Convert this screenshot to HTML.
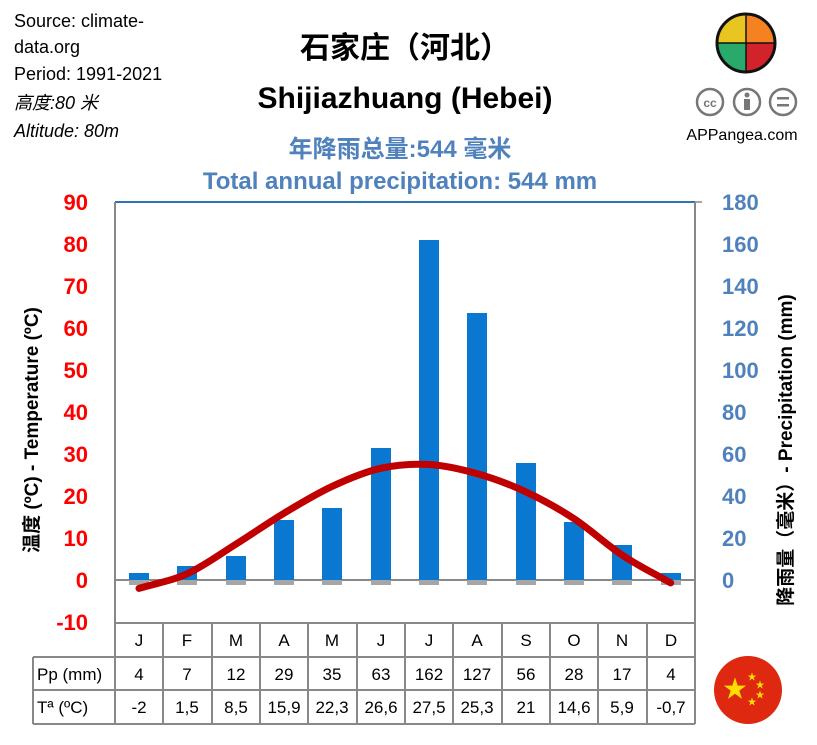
<!DOCTYPE html>
<html><head><meta charset="utf-8"><style>
body{margin:0;background:#fff;}
svg{display:block;font-family:"Liberation Sans","Noto Sans CJK SC",sans-serif;}
</style></head><body>
<svg width="817" height="745" viewBox="0 0 817 745" xmlns="http://www.w3.org/2000/svg">
<rect width="817" height="745" fill="#fff"/>
<g font-size="18" fill="#000">
<text x="14" y="27">Source: climate-</text>
<text x="14" y="53">data.org</text>
<text x="14" y="80">Period: 1991-2021</text>
<text x="14" y="109" font-style="italic">高度:80 米</text>
<text x="14" y="137" font-style="italic">Altitude: 80m</text>
</g>
<text x="405" y="58" font-size="30" font-weight="bold" text-anchor="middle">石家庄（河北）</text>
<text x="405" y="108" font-size="30" font-weight="bold" text-anchor="middle">Shijiazhuang (Hebei)</text>
<text x="400" y="157" font-size="24" font-weight="bold" fill="#4F81BD" text-anchor="middle">年降雨总量:544 毫米</text>
<text x="400" y="189" font-size="24" font-weight="bold" fill="#4F81BD" text-anchor="middle">Total annual precipitation: 544 mm</text>
<g transform="translate(746,43)">
<path d="M0,0 L0,-29 A29,29 0 0 0 -29,0 Z" fill="#E8C520"/>
<path d="M0,0 L29,0 A29,29 0 0 0 0,-29 Z" fill="#F58220"/>
<path d="M0,0 L-29,0 A29,29 0 0 0 0,29 Z" fill="#2AAA6A"/>
<path d="M0,0 L0,29 A29,29 0 0 0 29,0 Z" fill="#D2232A"/>
<circle r="29" fill="none" stroke="#111" stroke-width="3"/>
<path d="M0,-29 V0 M-29,0 H29 M0,0 V29" stroke="#111" stroke-width="1.5"/>
</g>
<g fill="none" stroke="#777" stroke-width="2.5">
<circle cx="710" cy="102" r="13"/><circle cx="747" cy="102" r="13"/><circle cx="783" cy="102" r="13"/>
</g>
<text x="710" y="107" font-size="12" font-weight="bold" fill="#777" text-anchor="middle">cc</text>
<circle cx="747" cy="95" r="2.5" fill="#777"/><rect x="744" y="99" width="6" height="11" fill="#777"/>
<rect x="777" y="97" width="12" height="2.5" fill="#777"/><rect x="777" y="104" width="12" height="2.5" fill="#777"/>
<text x="742" y="140" font-size="16" text-anchor="middle">APPangea.com</text>
<line x1="115" y1="202" x2="695" y2="202" stroke="#2E75B6" stroke-width="2"/>
<line x1="115" y1="202" x2="115" y2="724" stroke="#888" stroke-width="2"/>
<line x1="695" y1="202" x2="695" y2="657" stroke="#888" stroke-width="2"/>
<line x1="695" y1="202" x2="702" y2="202" stroke="#888" stroke-width="1.5"/>
<line x1="115" y1="580" x2="695" y2="580" stroke="#888" stroke-width="2"/>
<g font-size="22" font-weight="bold" fill="#FF0000" text-anchor="end">
<text x="88" y="210">90</text><text x="88" y="252">80</text><text x="88" y="294">70</text><text x="88" y="336">60</text><text x="88" y="378">50</text><text x="88" y="420">40</text><text x="88" y="462">30</text><text x="88" y="504">20</text><text x="88" y="546">10</text><text x="88" y="588">0</text><text x="88" y="630">-10</text>
</g>
<g font-size="22" font-weight="bold" fill="#4F81BD" text-anchor="start">
<text x="722" y="210">180</text><text x="722" y="252">160</text><text x="722" y="294">140</text><text x="722" y="336">120</text><text x="722" y="378">100</text><text x="722" y="420">80</text><text x="722" y="462">60</text><text x="722" y="504">40</text><text x="722" y="546">20</text><text x="722" y="588">0</text>
</g>
<text transform="translate(38,430) rotate(-90)" font-size="19" font-weight="bold" text-anchor="middle">温度 (ºC) - Temperature  (ºC)</text>
<text transform="translate(792,450) rotate(-90)" font-size="19" font-weight="bold" text-anchor="middle">降雨量（毫米）- Precipitation  (mm)</text>
<g fill="#A6A6A6">
<rect x="129" y="580" width="20" height="5"/><rect x="177" y="580" width="20" height="5"/><rect x="226" y="580" width="20" height="5"/><rect x="274" y="580" width="20" height="5"/><rect x="322" y="580" width="20" height="5"/><rect x="371" y="580" width="20" height="5"/><rect x="419" y="580" width="20" height="5"/><rect x="467" y="580" width="20" height="5"/><rect x="516" y="580" width="20" height="5"/><rect x="564" y="580" width="20" height="5"/><rect x="612" y="580" width="20" height="5"/><rect x="661" y="580" width="20" height="5"/>
</g>
<g fill="#0A77D0">
<rect x="129" y="573" width="20" height="7"/>
<rect x="177" y="566" width="20" height="14"/>
<rect x="226" y="556" width="20" height="24"/>
<rect x="274" y="520" width="20" height="60"/>
<rect x="322" y="508" width="20" height="72"/>
<rect x="371" y="448" width="20" height="132"/>
<rect x="419" y="240" width="20" height="340"/>
<rect x="467" y="313" width="20" height="267"/>
<rect x="516" y="463" width="20" height="117"/>
<rect x="564" y="522" width="20" height="58"/>
<rect x="612" y="545" width="20" height="35"/>
<rect x="661" y="573" width="20" height="7"/>
</g>
<path d="M139,588.4 C155.1,583.5 171.2,581.1 187.3,573.7 C203.4,566.4 219.6,554.4 235.7,544.3 C251.8,534.2 267.9,522.9 284,513.2 C300.1,503.5 316.2,493.8 332.3,486.3 C348.4,478.8 364.6,471.9 380.7,468.3 C396.8,464.7 412.9,463.6 429,464.5 C445.1,465.4 461.2,469.2 477.3,473.7 C493.4,478.2 509.6,484.3 525.7,491.8 C541.8,499.3 557.9,508.1 574,518.7 C590.1,529.3 606.2,544.5 622.3,555.2 C638.4,565.9 654.6,573.7 670.7,582.9" fill="none" stroke="#C00000" stroke-width="7" stroke-linecap="round"/>
<g stroke="#888" stroke-width="2" fill="none">
<line x1="33" y1="657" x2="695" y2="657"/><line x1="33" y1="690" x2="695" y2="690"/><line x1="33" y1="724" x2="695" y2="724"/>
<line x1="33" y1="657" x2="33" y2="724"/>
<line x1="163" y1="623" x2="163" y2="724"/><line x1="212" y1="623" x2="212" y2="724"/><line x1="260" y1="623" x2="260" y2="724"/><line x1="308" y1="623" x2="308" y2="724"/><line x1="357" y1="623" x2="357" y2="724"/><line x1="405" y1="623" x2="405" y2="724"/><line x1="453" y1="623" x2="453" y2="724"/><line x1="502" y1="623" x2="502" y2="724"/><line x1="550" y1="623" x2="550" y2="724"/><line x1="598" y1="623" x2="598" y2="724"/><line x1="647" y1="623" x2="647" y2="724"/><line x1="695" y1="623" x2="695" y2="724"/>
<line x1="115" y1="623" x2="695" y2="623"/>
</g>
<g font-size="17" text-anchor="middle">
<text x="139" y="646">J</text><text x="187" y="646">F</text><text x="236" y="646">M</text><text x="284" y="646">A</text><text x="332" y="646">M</text><text x="381" y="646">J</text><text x="429" y="646">J</text><text x="477" y="646">A</text><text x="526" y="646">S</text><text x="574" y="646">O</text><text x="622" y="646">N</text><text x="671" y="646">D</text>
<text x="139" y="680">4</text><text x="187" y="680">7</text><text x="236" y="680">12</text><text x="284" y="680">29</text><text x="332" y="680">35</text><text x="381" y="680">63</text><text x="429" y="680">162</text><text x="477" y="680">127</text><text x="526" y="680">56</text><text x="574" y="680">28</text><text x="622" y="680">17</text><text x="671" y="680">4</text>
<text x="139" y="713">-2</text><text x="187" y="713">1,5</text><text x="236" y="713">8,5</text><text x="284" y="713">15,9</text><text x="332" y="713">22,3</text><text x="381" y="713">26,6</text><text x="429" y="713">27,5</text><text x="477" y="713">25,3</text><text x="526" y="713">21</text><text x="574" y="713">14,6</text><text x="622" y="713">5,9</text><text x="671" y="713">-0,7</text>
</g>
<text x="37" y="680" font-size="17">Pp (mm)</text>
<text x="37" y="713" font-size="17">Tª (ºC)</text>
<circle cx="748" cy="690" r="34" fill="#DE2910"/>
<g fill="#FFDE00" text-anchor="middle">
<text x="735" y="697" font-size="24">★</text>
<text x="752" y="680" font-size="9">★</text><text x="760" y="688" font-size="9">★</text><text x="760" y="698" font-size="9">★</text><text x="752" y="705" font-size="9">★</text>
</g>
</svg>
</body></html>
